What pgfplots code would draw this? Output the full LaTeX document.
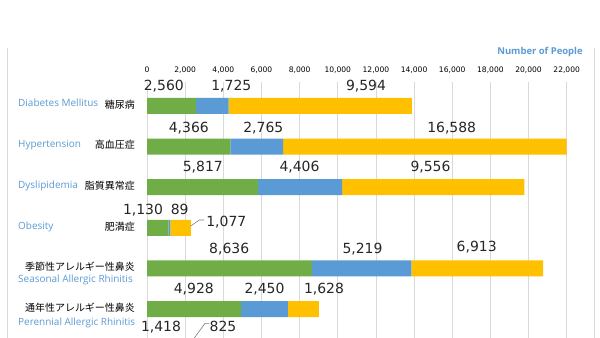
\documentclass[border=0pt]{standalone}
\usepackage{pgfplots}
\pgfplotsset{compat=1.18}
\usepackage{fontspec}
\setmainfont{DejaVu Sans}
\newfontfamily\enfont{Open Sans}
\newfontfamily\jpfont{Noto Sans CJK JP}
\definecolor{cgreen}{HTML}{70AD47}
\definecolor{cblue}{HTML}{5B9BD5}
\definecolor{cyellow}{HTML}{FFC000}
\definecolor{ctext}{HTML}{5B9BD5}
\definecolor{cgrid}{HTML}{D9D9D9}
\definecolor{clab}{HTML}{262626}
\newcommand{\dl}[3]{\node[anchor=base, inner sep=0pt, font=\fontsize{14}{16}\selectfont, text=clab] at (#1bp,-#2bp) {#3};}
\newcommand{\en}[3]{\node[anchor=base west, inner sep=0pt, font=\enfont\fontsize{10}{12}\selectfont, text=ctext] at (#1bp,-#2bp) {#3};}
\newcommand{\jp}[3]{\node[anchor=base east, inner sep=0pt, font=\jpfont\fontsize{10}{12}\selectfont, text=black] at (#1bp,-#2bp) {#3};}
\begin{document}
\begin{tikzpicture}
\useasboundingbox (0,-338bp) rectangle (600bp,0);
\fill[white] (0,-338bp) rectangle (600bp,0);
\draw[cgrid, line width=0.8bp] (7bp,-48bp) -- (7bp,-338bp);
\draw[cgrid, line width=0.8bp] (594bp,-48bp) -- (594bp,-338bp);
\begin{axis}[
  at={(147bp,-338bp)}, anchor=south west,
  scale only axis, width=419.7bp, height=256bp,
  xbar stacked, bar width=16bp,
  xmin=0, xmax=22000, ymin=-5.714, ymax=0.591,
  xtick={0,2000,...,22000}, ytick=\empty,
  xticklabel pos=upper,
  scaled x ticks=false,
  xticklabel style={anchor=base, yshift=9.5bp, inner sep=0pt, font=\fontsize{7.6}{9}\selectfont, text=black},
  /pgf/number format/.cd, 1000 sep={,}, assume math mode=true, /pgfplots/.cd,
  xmajorgrids, grid style={cgrid, line width=0.8bp},
  axis line style={draw=none}, major tick style={draw=none},
  clip=true,
]
\addplot[fill=cgreen, draw=none] coordinates {(2560,0) (4366,-1) (5817,-2) (1130,-3) (8636,-4) (4928,-5)};
\addplot[fill=cblue, draw=none] coordinates {(1725,0) (2765,-1) (4406,-2) (89,-3) (5219,-4) (2450,-5)};
\addplot[fill=cyellow, draw=none] coordinates {(9594,0) (16588,-1) (9556,-2) (1077,-3) (6913,-4) (1628,-5)};
\end{axis}
\node[anchor=center, inner sep=0pt, font=\enfont\bfseries\fontsize{9.5}{11}\selectfont, text=ctext] at (540bp,-52.5bp) {Number of People};
% data labels
\dl{163.8}{90.7}{2,560}
\dl{231.3}{90.7}{1,725}
\dl{366}{90.7}{9,594}
\dl{188.8}{132.5}{4,366}
\dl{263.3}{132.5}{2,765}
\dl{451.7}{132.5}{16,588}
\dl{202.8}{171.7}{5,817}
\dl{299.5}{171.7}{4,406}
\dl{430.5}{171.7}{9,556}
\dl{143}{214.5}{1,130}
\dl{179.7}{214.5}{89}
\dl{226.3}{226.5}{1,077}
\dl{229.2}{253.5}{8,636}
\dl{362.5}{253.5}{5,219}
\dl{476.7}{251.7}{6,913}
\dl{193.8}{293.3}{4,928}
\dl{264.5}{293.3}{2,450}
\dl{324}{293.3}{1,628}
\dl{161}{331.5}{1,418}
\dl{223}{331.5}{825}
\draw[gray, line width=0.6bp] (190.7bp,-226bp) -- (199.3bp,-220bp) -- (204bp,-220bp);
\draw[gray, line width=0.6bp] (194.3bp,-338bp) -- (205bp,-323.3bp) -- (209bp,-323.3bp);
% category labels
\en{18}{106}{Diabetes Mellitus}
\jp{135}{108}{糖尿病}
\en{18}{147.5}{Hypertension}
\jp{135}{148}{高血圧症}
\en{18}{188.5}{Dyslipidemia}
\jp{135}{189}{脂質異常症}
\en{18}{229.5}{Obesity}
\jp{135}{230}{肥満症}
\jp{135}{270.5}{季節性アレルギー性鼻炎}
\en{18}{282.8}{Seasonal Allergic Rhinitis}
\jp{135}{311}{通年性アレルギー性鼻炎}
\en{18}{325.2}{Perennial Allergic Rhinitis}
\end{tikzpicture}
\end{document}
